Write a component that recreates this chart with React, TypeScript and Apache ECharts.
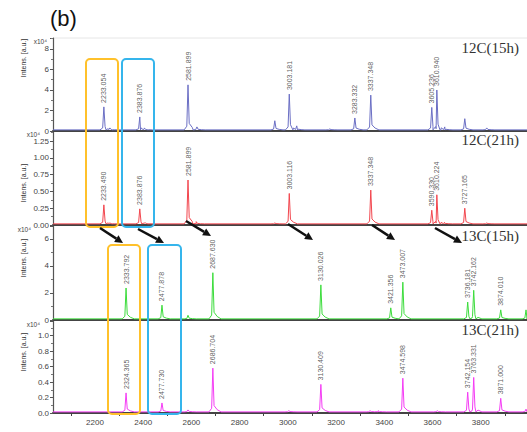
import React, { useEffect, useRef } from "react";
import * as echarts from "echarts";

// ---- axis ----
const X_MIN = 2026;
const X_MAX = 3992;
const xLabelValues = [2200, 2400, 2600, 2800, 3000, 3200, 3400, 3600, 3800];
const xTickValues = [2100, 2300, 2500, 2700, 2900, 3100, 3300, 3500, 3700, 3900];

const panelNames = ["12C(15h)", "12C(21h)", "13C(15h)", "13C(21h)"];
const yMaxes = [9.07, 1.4, 6.96, 1.19];
const yIntervals = [2, 0.25, 2, 0.2];
const yDecimals = [0, 2, 0, 1];

// ---- 12C (15h) ----
const c12h15Mz = [2237, 2262, 2386, 2405, 2586, 2623, 2946, 3006, 3037, 3174, 3278, 3344, 3597, 3618, 3651, 3734, 3825];
const c12h15Int = [2.35, 0.3, 1.37, 0.3, 4.5, 0.4, 1.0, 3.6, 0.5, 0.2, 1.27, 3.5, 2.3, 4.0, 0.4, 1.2, 0.3];
const c12h15Lbl = ["2233.054", "", "2383.876", "", "2581.899", "", "", "3003.181", "", "", "3283.332", "3337.348", "3605.236", "3610.940", "", "", ""];

// ---- 12C (21h) ----
const c12h21Mz = [2237, 2262, 2386, 2410, 2586, 2620, 2946, 3006, 3344, 3597, 3618, 3650, 3734, 3825];
const c12h21Int = [0.3, 0.03, 0.24, 0.03, 0.67, 0.05, 0.03, 0.47, 0.52, 0.22, 0.45, 0.04, 0.25, 0.03];
const c12h21Lbl = ["2233.490", "", "2383.876", "", "2581.899", "", "", "3003.116", "3337.348", "3590.330", "3610.224", "", "3727.165", ""];

// ---- 13C (15h) ----
const c13h15Mz = [2329, 2478, 2586, 2689, 3137, 3427, 3477, 3746, 3771, 3883, 3988];
const c13h15Int = [2.37, 1.1, 0.35, 3.5, 2.6, 0.9, 2.8, 1.33, 2.2, 0.75, 0.75];
const c13h15Lbl = ["2333.792", "2477.878", "", "2687.630", "3130.026", "3421.356", "3473.007", "3736.181", "3742.162", "3874.010", ""];

// ---- 13C (21h) ----
const c13h21Mz = [2329, 2478, 2586, 2689, 3004, 3137, 3341, 3375, 3477, 3620, 3746, 3771, 3883, 3988];
const c13h21Int = [0.26, 0.13, 0.04, 0.58, 0.03, 0.37, 0.03, 0.03, 0.45, 0.03, 0.27, 0.46, 0.19, 0.05];
const c13h21Lbl = ["2324.365", "2477.730", "", "2686.704", "", "3130.409", "", "", "3474.598", "", "3742.154", "3763.331", "3871.000", ""];

const panelMz = [c12h15Mz, c12h21Mz, c13h15Mz, c13h21Mz];
const panelInt = [c12h15Int, c12h21Int, c13h15Int, c13h21Int];
const panelLbl = [c12h15Lbl, c12h21Lbl, c13h15Lbl, c13h21Lbl];

// ---- styles / layout ----
const colors = ["#6B6FC4", "#F2464E", "#3CDC3C", "#F43CF4"];
const baseFrac = [0.012, 0.012, 0.012, 0.012];
const gridTops = [38, 131, 226, 321];
const gridHeights = [93, 94, 94, 92];
const GRID_LEFT = 53;

function spectrum(mz: number[], inten: number[], base: number) {
  const pts: number[][] = [[X_MIN, base], [X_MAX, base]];
  mz.forEach((m, i) => {
    const h = inten[i];
    pts.push(
      [m - 16, base],
      [m - 5, base + 0.08 * h],
      [m, h],
      [m + 5, base + 0.14 * h],
      [m + 18, base + 0.05 * h],
      [m + 34, base]
    );
  });
  pts.sort((a, b) => a[0] - b[0]);
  return pts;
}

function arrow(x1: number, y1: number, x2: number, y2: number) {
  const dx = x2 - x1, dy = y2 - y1;
  const len = Math.hypot(dx, dy);
  const ux = dx / len, uy = dy / len;
  const hl = 8, hw = 4;
  const bx = x2 - ux * hl, by = y2 - uy * hl;
  return [
    { type: "line", shape: { x1, y1, x2: bx, y2: by }, style: { stroke: "#111", lineWidth: 2.5 }, z: 100 },
    {
      type: "polygon",
      shape: { points: [[x2, y2], [bx - uy * hw, by + ux * hw], [bx + uy * hw, by - ux * hw]] },
      style: { fill: "#111" },
      z: 100,
    },
  ];
}

export default function App() {
  const ref = useRef<HTMLDivElement>(null);
  useEffect(() => {
    if (!ref.current) return;
    const chart = echarts.init(ref.current, null, { renderer: "svg" });
    const grids: any[] = [];
    const xAxes: any[] = [];
    const yAxes: any[] = [];
    const series: any[] = [];
    for (let p = 0; p < 4; p++) {
      const isBottom = p === 3;
      grids.push({ left: GRID_LEFT, right: 0, top: gridTops[p], height: gridHeights[p], containLabel: false });
      xAxes.push({
        type: "value",
        gridIndex: p,
        min: X_MIN,
        max: X_MAX,
        axisLine: { show: true, onZero: false, lineStyle: { color: "#444", width: 2 } },
        axisTick: isBottom
          ? { show: true, customValues: xTickValues, length: 3, lineStyle: { color: "#444" } }
          : { show: false },
        axisLabel: isBottom
          ? {
              show: true,
              customValues: xLabelValues,
              fontSize: 8,
              color: "#444",
              margin: 5,
              fontFamily: "Liberation Sans",
              formatter: (v: number) => String(v),
            }
          : { show: false },
        splitLine: { show: false },
      });
      const dec = yDecimals[p];
      yAxes.push({
        type: "value",
        gridIndex: p,
        min: 0,
        max: yMaxes[p],
        interval: yIntervals[p],
        axisLine: { show: true, lineStyle: { color: "#555", width: 1.2 } },
        axisTick: { show: true, length: 3, lineStyle: { color: "#555" } },
        minorTick: { show: true, splitNumber: 2, length: 2, lineStyle: { color: "#777" } },
        axisLabel: {
          show: true,
          fontSize: 8,
          color: "#444",
          margin: 4,
          fontFamily: "Liberation Sans",
          showMaxLabel: false,
          formatter: (v: number) => v.toFixed(dec),
        },
        splitLine: { show: false },
      });
      const base = yMaxes[p] * baseFrac[p];
      series.push({
        type: "line",
        xAxisIndex: p,
        yAxisIndex: p,
        data: spectrum(panelMz[p], panelInt[p], base),
        showSymbol: false,
        symbol: "none",
        lineStyle: { color: colors[p], width: 1 },
        z: 3,
      });
      const lblData: any[] = [];
      panelMz[p].forEach((m, i) => {
        if (panelLbl[p][i]) lblData.push({ value: [m, panelInt[p][i]], name: panelLbl[p][i] });
      });
      series.push({
        type: "scatter",
        xAxisIndex: p,
        yAxisIndex: p,
        data: lblData,
        symbolSize: 0,
        silent: true,
        label: {
          show: true,
          position: "top",
          rotate: 90,
          align: "left",
          verticalAlign: "middle",
          distance: 4,
          formatter: "{b}",
          fontSize: 7,
          color: "#333",
          fontFamily: "Liberation Sans",
        },
        z: 4,
      });
    }

    const nameY = [58, 183, 258, 352];
    const expX = [47, 40, 31, 40];
    const expY = [41, 134, 229, 324];
    const labelY = [48, 140, 236, 330];
    const graphics: any[] = [
      { type: "text", x: 50, y: 7, style: { text: "(b)", fontSize: 22, fontFamily: "Liberation Sans", fill: "#111" } },
      { type: "line", shape: { x1: 53, y1: 38, x2: 527, y2: 38 }, style: { stroke: "#e6e6e6", lineWidth: 1 } },
    ];
    for (let p = 0; p < 4; p++) {
      graphics.push({
        type: "text",
        x: 23,
        y: nameY[p],
        rotation: Math.PI / 2,
        style: { text: "Intens. [a.u.]", fontSize: 7, fontFamily: "Liberation Sans", fill: "#333", align: "center", verticalAlign: "middle" },
      });
      graphics.push({
        type: "text",
        x: expX[p],
        y: expY[p],
        style: { text: "x10\u2074", fontSize: 6.5, fontFamily: "Liberation Sans", fill: "#444", align: "right", verticalAlign: "middle" },
      });
      graphics.push({
        type: "text",
        x: 519,
        y: labelY[p],
        style: { text: panelNames[p], fontSize: 15, fontFamily: "Liberation Serif", fill: "#333", align: "right", verticalAlign: "middle" },
      });
    }
    const boxes = [
      { x: 86, y: 59, w: 32, h: 168, c: "#FFC12B" },
      { x: 122, y: 59, w: 32, h: 168, c: "#35B5EC" },
      { x: 108, y: 245, w: 32, h: 169, c: "#FFC12B" },
      { x: 148, y: 245, w: 33, h: 169, c: "#35B5EC" },
    ];
    boxes.forEach((b) =>
      graphics.push({
        type: "rect",
        shape: { x: b.x, y: b.y, width: b.w, height: b.h, r: 4 },
        style: { fill: "none", stroke: b.c, lineWidth: 2 },
        z: 90,
      })
    );
    const arrows = [
      [100, 228, 123, 243],
      [138, 229, 164, 243],
      [186, 221, 211, 236],
      [288, 224, 313, 240],
      [372, 225, 395, 240],
      [435, 228, 462, 243],
    ];
    arrows.forEach((a) => graphics.push(...arrow(a[0], a[1], a[2], a[3])));

    chart.setOption({
      animation: false,
      backgroundColor: "#fff",
      grid: grids,
      xAxis: xAxes,
      yAxis: yAxes,
      series,
      graphic: graphics,
    });
    return () => chart.dispose();
  }, []);
  return <div ref={ref} style={{ position: "fixed", left: 0, top: 0, width: 527, height: 432 }} />;
}
